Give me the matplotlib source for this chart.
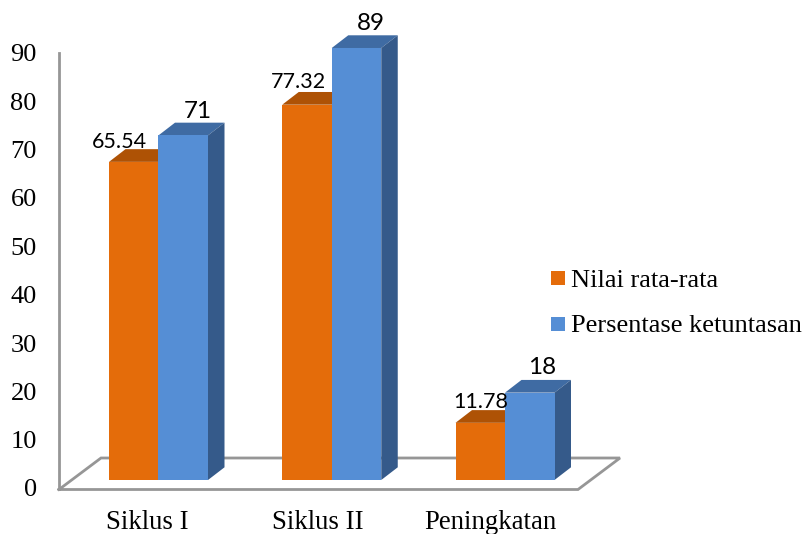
import matplotlib
matplotlib.use('Agg')
import matplotlib.pyplot as plt
from matplotlib.patches import Rectangle

categories = ['Siklus I', 'Siklus II', 'Peningkatan']
nilai_rata = [65.54, 77.32, 11.78]
ketuntasan = [71, 89, 18]
y_ticks = [0, 10, 20, 30, 40, 50, 60, 70, 80, 90]
series_names = ['Nilai rata-rata', 'Persentase ketuntasan']

W, H = 807, 534
Y0 = 480        # pixel row of the bar bases
PX_UNIT = 4.854 # pixels per value unit
X0 = 158.5      # pixel column of the first group centre
STEP = 173.25   # pixels between groups
BAR_W = 49.5 / STEP
DX, DY = 16.5 / STEP, 12.7 / PX_UNIT  # 3D depth

ORANGE = ('#E46C0A', '#AE5205', '#AE5205')
BLUE = ('#558ED5', '#3F6BA3', '#355A8A')
GREY = '#969696'
SERIF = 'Liberation Serif'
LABEL_FONT = 'Lato'


def xd(px):
    return (px - X0) / STEP


def yd(py):
    return (Y0 - py) / PX_UNIT


fig = plt.figure(figsize=(W / 100, H / 100), dpi=100)
ax = fig.add_axes([0, 0, 1, 1])
ax.set_xlim(xd(0), xd(W))
ax.set_ylim(yd(H), yd(0))
ax.axis('off')

# Floor of the 3D plot
floor_x = [xd(59), xd(101), xd(620), xd(578), xd(59)]
floor_y = [yd(489.5), yd(458), yd(458), yd(489.5), yd(489.5)]
ax.plot(floor_x, floor_y, color=GREY, lw=2, solid_joinstyle='miter', zorder=1)


def bar3d(x, value, colors, z):
    front, top, side = colors
    ax.bar(x, value, BAR_W, color=front, zorder=z + 0.2)
    left, right = x - BAR_W / 2, x + BAR_W / 2
    ax.fill([left, right, right + DX, left + DX],
            [value, value, value + DY, value + DY], color=top, lw=0, zorder=z)
    ax.fill([right, right + DX, right + DX, right],
            [0, DY, value + DY, value], color=side, lw=0, zorder=z)


for i in range(len(categories)):
    bar3d(i - BAR_W / 2, nilai_rata[i], ORANGE, 2)
    bar3d(i + BAR_W / 2, ketuntasan[i], BLUE, 3)

# Value labels: (dx, dy) in pixels from the top centre of each bar
orange_offsets = [(-14, 20), (-9, 23), (0, 21)]
blue_offsets = [(15, 24), (14, 24), (12, 25)]
for i in range(len(categories)):
    off = orange_offsets[i]
    ax.text(i - BAR_W / 2 + off[0] / STEP, nilai_rata[i] + off[1] / PX_UNIT, f'{nilai_rata[i]:.2f}',
            ha='center', va='center', fontsize=15.5, family=LABEL_FONT, color='black', zorder=6)
    off = blue_offsets[i]
    ax.text(i + BAR_W / 2 + off[0] / STEP, ketuntasan[i] + off[1] / PX_UNIT, str(ketuntasan[i]),
            ha='center', va='center', fontsize=17.5, family=LABEL_FONT, color='black', zorder=6)

# Category names sit left of the group centres, following the floor perspective
cat_px = [147, 318, 490]
for name, px in zip(categories, cat_px):
    ax.text(xd(px), yd(522.5), name, ha='center', va='center', fontsize=19.3, family=SERIF, color='black')

# Back wall scale
wall = fig.add_axes([59 / W, (H - 488) / H, 40 / W, 435 / H])
wall.patch.set_alpha(0)
wall.set_ylim(0, 90)
wall.set_xticks([])
wall.set_yticks(y_ticks)
wall.set_yticklabels([str(t) for t in y_ticks], family=SERIF, fontsize=19)
wall.tick_params(axis='y', length=0, pad=16)
for name in ('top', 'right', 'bottom'):
    wall.spines[name].set_visible(False)
wall.spines['left'].set_color(GREY)
wall.spines['left'].set_linewidth(2)

# Legend drawn by hand: swatches sit higher than the text baseline
swatch_tops = [271, 317]
baselines = [287, 331.7]
for name, color, top, base in zip(series_names, (ORANGE[0], BLUE[0]), swatch_tops, baselines):
    ax.add_patch(Rectangle((xd(551), yd(top + 14)), 14 / STEP, 14 / PX_UNIT, color=color, lw=0))
    ax.text(xd(571), yd(base), name, ha='left', va='baseline', fontsize=19, family=SERIF, color='black')

plt.savefig('out.png', dpi=100)
